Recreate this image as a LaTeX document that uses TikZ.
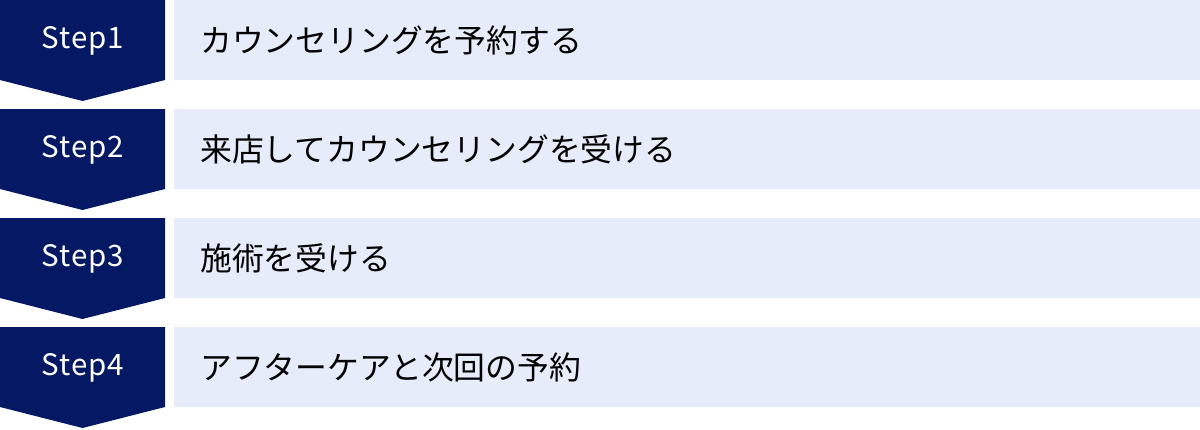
\documentclass[tikz,border=0pt]{standalone}
\usepackage{fontspec}
\setmainfont{Noto Sans CJK JP}
\newfontfamily\stepfont[LetterSpace=3]{Noto Sans CJK JP}
\definecolor{navy}{RGB}{5,24,99}
\definecolor{pale}{RGB}{230,236,249}
\begin{document}
\begin{tikzpicture}[x=1pt,y=-1pt,
  stepshape/.style={fill=navy,draw=none},
  steplabel/.style={text=white,font=\stepfont\fontsize{29.5}{32}\selectfont,inner sep=0pt,anchor=center},
  bar/.style={fill=pale,draw=none,minimum width=1026pt,minimum height=80pt,inner sep=0pt,anchor=north west},
  bartext/.style={text=black,font=\fontsize{31.8}{34}\selectfont,inner sep=0pt,anchor=west}]
\useasboundingbox (0,0) rectangle (1200,429);
\foreach \i/\t in {1/カウンセリングを予約する,2/来店してカウンセリングを受ける,3/施術を受ける,4/アフターケアと次回の予約}{
  \pgfmathsetmacro{\y}{(\i-1)*109}
  \fill[stepshape] (0,\y) -- (165,\y) -- (165,\y+80) -- (82.5,\y+101) -- (0,\y+80) -- cycle;
  \node[steplabel] (s\i) at (83,\y+41) {Step\i};
  \node[bar] (b\i) at (174,\y) {};
  \node[bartext] (t\i) at (200,\y+40) {\t};
}
\end{tikzpicture}
\end{document}
